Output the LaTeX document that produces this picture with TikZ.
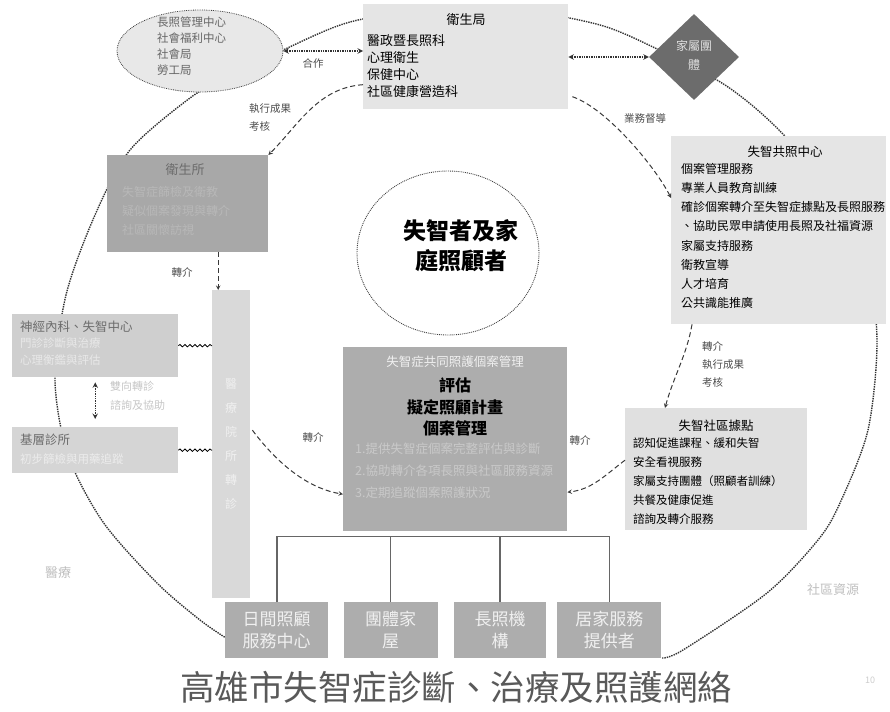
\documentclass[tikz,border=0pt]{standalone}
\usepackage{fontspec}
\setmainfont{Noto Sans CJK TC}
\usetikzlibrary{%
  arrows,%
  calc,%
  shapes,% ellipse, diamond
  positioning,% wg. " of "
  decorations.pathmorphing% snake
}

\begin{document}
\begin{tikzpicture}[x=1pt,y=-1pt,>=stealth]
  \tikzset{panel/.style={rectangle, anchor=north west, inner sep=0pt, fill=gray!20}}
  \tikzset{darkpanel/.style={panel, fill=gray!64}}
  \tikzset{service/.style={darkpanel, minimum height=56, align=center,
      text=gray!12, font=\fontsize{17}{22}\selectfont}}
  \tikzset{txt/.style={inner sep=0pt, align=left, font=\fontsize{11.5}{18}\selectfont}}
  \tikzset{lbl/.style={inner sep=0pt, align=left, text=gray!60!black,
      font=\fontsize{10.5}{18}\selectfont}}
  \tikzset{ring/.style={densely dotted, line width=1.4pt, gray!40!black}}
  \tikzset{link/.style={dash pattern=on 5pt off 3pt, line width=1pt, gray!45!black, ->}}
  \tikzset{dotlink/.style={densely dotted, line width=1.4pt, gray!40!black, <->}}
  \tikzset{wavy/.style={decorate, decoration={snake, amplitude=1.2pt, segment length=5pt},
      line width=0.8pt}}
  \tikzset{tree/.style={line width=1.6pt, gray!80!black}}

  \useasboundingbox (0,0) rectangle (890,711);

  % outer ring
  \draw[ring] plot[smooth] coordinates {(662,658) (683,650) (767,593) (818,540) (840,503)
    (868,430) (877,340) (866,260) (830,190) (777,128) (725,85) (655,48) (600,25) (520,10)
    (440,8) (350,22) (283,50) (230,75) (190,98) (130,150) (95,215) (66,295) (55,380)
    (68,455) (103,522) (157,583) (200,620) (226,638)};

  % top
  \node[ellipse, fill=gray!18, draw=gray!50!black, densely dotted, line width=0.8pt,
    minimum width=166, minimum height=82] (cbj) at (200,51) {};
  \node[txt, anchor=north west, text=gray!80!black, font=\fontsize{11.5}{16}\selectfont] (cbjtxt) at (157,17)
    {長照管理中心\\社會福利中心\\社會局\\勞工局};

  \node[panel, minimum width=205, minimum height=105] (wsj) at (363,4) {};
  \node[txt, font=\fontsize{13}{17}\selectfont] (wsjtitle) at (466,20) {衛生局};
  \node[txt, anchor=north west, font=\fontsize{13}{17}\selectfont] (wsjtxt) at (367,34)
    {醫政暨長照科\\心理衛生\\保健中心\\社區健康營造科};

  \node[diamond, fill=gray!85!black, minimum width=90, minimum height=86, inner sep=0pt] (xh) at (694,57) {};
  \node[txt, align=center, text=gray!25, font=\fontsize{12}{19}\selectfont] (xhtxt) at (694,55) {家屬團\\體};

  % right
  \node[panel, minimum width=215, minimum height=188] (gzz) at (671,136) {};
  \node[txt, font=\fontsize{12.5}{16}\selectfont] (gzztitle) at (785,152) {失智共照中心};
  \node[txt, anchor=north west, font=\fontsize{12}{19.2}\selectfont] (gzztxt) at (681,163)
    {個案管理服務\\專業人員教育訓練\\確診個案轉介至失智症據點及長照服務\\、協助民眾申請使用長照及社福資源\\家屬支持服務\\衛教宣導\\人才培育\\公共識能推廣};

  \node[panel, fill=gray!24, minimum width=182, minimum height=122] (sqj) at (625,408) {};
  \node[txt, font=\fontsize{12.5}{16}\selectfont] (sqjtitle) at (716,426) {失智社區據點};
  \node[txt, anchor=north west, font=\fontsize{11.5}{19}\selectfont] (sqjtxt) at (633,438)
    {認知促進課程、緩和失智\\安全看視服務\\家屬支持團體（照顧者訓練）\\共餐及健康促進\\諮詢及轉介服務};

  % left
  \node[darkpanel, fill=gray!68, minimum width=161, minimum height=97] (wss) at (107,155) {};
  \node[txt, text=gray!85!black, font=\fontsize{13}{17}\selectfont] (wsstitle) at (185,170) {衛生所};
  \node[txt, anchor=north west, text=gray!56, font=\fontsize{12}{19}\selectfont] (wsstxt) at (122,186)
    {失智症篩檢及衛教\\疑似個案發現與轉介\\社區關懷訪視};

  \node[panel, fill=gray!38, minimum width=166, minimum height=63] (yy) at (12,314) {};
  \node[txt, anchor=west, text=gray!85!black, font=\fontsize{12.5}{16}\selectfont] (yytitle) at (20,327) {神經內科、失智中心};
  \node[txt, anchor=north west, text=gray!18, font=\fontsize{11.5}{17}\selectfont] (yytxt) at (20,338)
    {門診診斷與治療\\心理衡鑑與評估};

  \node[panel, fill=gray!33, minimum width=166, minimum height=46] (jc) at (12,427) {};
  \node[txt, anchor=west, text=gray!85!black, font=\fontsize{12.5}{16}\selectfont] (jctitle) at (20,440) {基層診所};
  \node[txt, anchor=west, text=gray!15] (jctxt) at (20,459) {初步篩檢與用藥追蹤};
  \node[lbl, anchor=north west, text=gray!45, font=\fontsize{11}{19}\selectfont] (zzlbl) at (110,381) {雙向轉診\\諮詢及協助};

  \node[panel, fill=gray!30, minimum width=38, minimum height=308] (col) at (212,290) {};
  \node[txt, align=center, text=gray!12, font=\fontsize{12}{24}\selectfont] (coltxt) at (231,444)
    {醫\\療\\院\\所\\轉\\診};

  % middle
  \node[ellipse, draw=gray!50!black, densely dotted, line width=0.9pt,
    minimum width=182, minimum height=164] (pt) at (448,253) {};
  \node[txt, align=center, font=\bfseries\fontsize{23}{30}\selectfont] (pttxt) at (461,246) {失智者及家\\庭照顧者};

  \node[darkpanel, minimum width=224, minimum height=184] (hub) at (343,347) {};
  \node[txt, text=gray!12, font=\fontsize{12.5}{16}\selectfont] (hubtitle) at (455,362) {失智症共同照護個案管理};
  \node[txt, align=center, text=black, font=\bfseries\fontsize{16}{21.5}\selectfont] (hubmain) at (455,407)
    {評估\\擬定照顧計畫\\個案管理};
  \node[txt, anchor=north west, text=gray!42, font=\fontsize{12.5}{22}\selectfont] (hubtxt) at (355,443)
    {1.提供失智症個案完整評估與診斷\\2.協助轉介各項長照與社區服務資源\\3.定期追蹤個案照護狀況};

  % bottom
  \node[service, minimum width=103] (svc1) at (225,602) {日間照顧\\服務中心};
  \node[service, minimum width=94, right=15pt of svc1] (svc2) {團體家\\屋};
  \node[service, minimum width=92, right=16pt of svc2] (svc3) {長照機\\構};
  \node[service, minimum width=104, right=11pt of svc3] (svc4) {居家服務\\提供者};

  \coordinate (bus) at ($(hub.south)+(0,5)$);
  \draw[tree] (svc1.north) |- (bus) -| (svc4.north);
  \draw[tree] (svc2.north) -- (svc2.north |- bus);
  \draw[tree] (svc3.north) -- (svc3.north |- bus);

  % links
  \draw[dotlink] (cbj.east) -- (cbj.east -| wsj.west);
  \draw[dotlink] (wsj.east |- xh.west) -- (xh.west);
  \draw[dotlink, shorten <=5pt, shorten >=8pt] (yy.south) -- (jc.north);
  \draw[wavy] (yy.east) -- (yy.east -| col.west);
  \draw[wavy] (jc.east) -- (jc.east -| col.west);

  \coordinate (colin) at ($(col.north)+(-13,0)$);
  \draw[link] ($(wsj.west)+(0,28)$) .. controls +(-45,3) and +(30,-30) .. (wss.north east);
  \draw[link] (colin |- wss.south) -- (colin);
  \draw[link] ($(col.east)+(2,-14)$) .. controls +(30,40) and +(-30,-5) .. ($(hub.west)+(0,55)$);
  \draw[link] ($(sqj.west)+(0,-9)$) .. controls +(-20,15) and +(25,-3) .. ($(hub.east)+(0,53)$);
  \draw[link] ($(gzz.south west)+(21,0)$) .. controls +(-5,30) and +(8,-30) .. ($(sqj.north west)+(40,0)$);
  \draw[link] ($(wsj.east)+(4,40)$) .. controls +(35,12) and +(-15,-30) .. ($(gzz.north west)+(0,62)$);

  % labels
  \node[lbl] (hzlbl) at (313,63) {合作};
  \node[lbl, anchor=north west] (khlbl) at (249,103) {執行成果\\考核};
  \node[lbl] (zj1) at (182,272) {轉介};
  \node[lbl] (zj2) at (313,437) {轉介};
  \node[lbl] (zj3) at (580,440) {轉介};
  \node[lbl] (ddlbl) at (645,119) {業務督導};
  \node[lbl, anchor=north west] (sqlbl) at (702,341) {轉介\\執行成果\\考核};
  \node[lbl, text=gray!50, font=\fontsize{13}{16}\selectfont] (ylbl) at (58,573) {醫療};
  \node[lbl, text=gray!50, font=\fontsize{13}{16}\selectfont] (sqzy) at (833,590) {社區資源};
  \node[lbl, text=gray!40, font=\fontsize{9}{10}\selectfont] (fig) at (870,680) {10};

  \node[text=gray!70!black, font=\fontsize{34.5}{38}\selectfont] (title) at (456,687) {高雄市失智症診斷、治療及照護網絡};
\end{tikzpicture}
\end{document}
